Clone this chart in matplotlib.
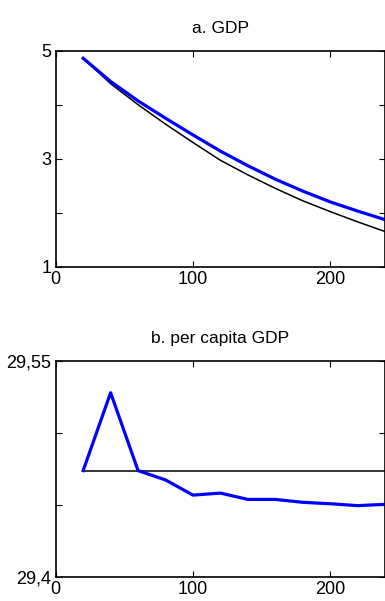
import matplotlib
matplotlib.use("Agg")
import matplotlib.pyplot as plt

plt.rcParams['font.family'] = ['Liberation Sans', 'DejaVu Sans']

# data
years = [20, 40, 60, 80, 100, 120, 140, 160, 180, 200, 220, 240]
gdp_base = [4.86, 4.39, 4.00, 3.64, 3.30, 2.97, 2.70, 2.45, 2.22, 2.02, 1.83, 1.65]
gdp_alt = [4.86, 4.43, 4.07, 3.75, 3.44, 3.14, 2.87, 2.62, 2.40, 2.20, 2.03, 1.87]
pc_base = [29.474] * len(years)
pc_alt = [29.474, 29.528, 29.474, 29.4675, 29.457, 29.4584, 29.454, 29.454,
          29.452, 29.451, 29.4497, 29.4506]

x_ticks = [0, 100, 200]
gdp_ticks = [1, 2, 3, 4, 5]
gdp_labels = ['1', '', '3', '', '5']
pc_ticks = [29.4, 29.45, 29.5, 29.55]
pc_labels = ['29,4', '', '', '29,55']

fig = plt.figure(figsize=(3.85, 6.01), dpi=100)
W, H = 385, 601


def make_axes(top_px, bottom_px):
    left = 55.7 / W
    right = 385.2 / W
    return fig.add_axes([left, 1 - bottom_px / H, right - left, (bottom_px - top_px) / H])


def style(ax):
    for s in ax.spines.values():
        s.set_linewidth(1.2)
    ax.tick_params(direction='in', length=4, width=0.8, labelsize=13,
                   top=True, right=True, pad=3)
    ax.set_xlim(0, 240)
    ax.set_xticks(x_ticks)


ax1 = make_axes(50.7, 266.7)
ax1.plot(years, gdp_base, color='black', lw=1.1)
ax1.plot(years, gdp_alt, color='#0000ff', lw=2.3)
ax1.set_ylim(1, 5)
ax1.set_yticks(gdp_ticks)
ax1.set_yticklabels(gdp_labels)
style(ax1)
ax1.set_title('a. GDP', fontsize=12.5, pad=13)

ax2 = make_axes(361, 577.3)
ax2.plot(years, pc_base, color='black', lw=1.1)
ax2.plot(years, pc_alt, color='#0000ff', lw=2.3)
ax2.set_ylim(29.4, 29.55)
ax2.set_yticks(pc_ticks)
ax2.set_yticklabels(pc_labels)
style(ax2)
ax2.set_title('b. per capita GDP', fontsize=12.5, pad=13)

fig.savefig('out.png', dpi=100)
